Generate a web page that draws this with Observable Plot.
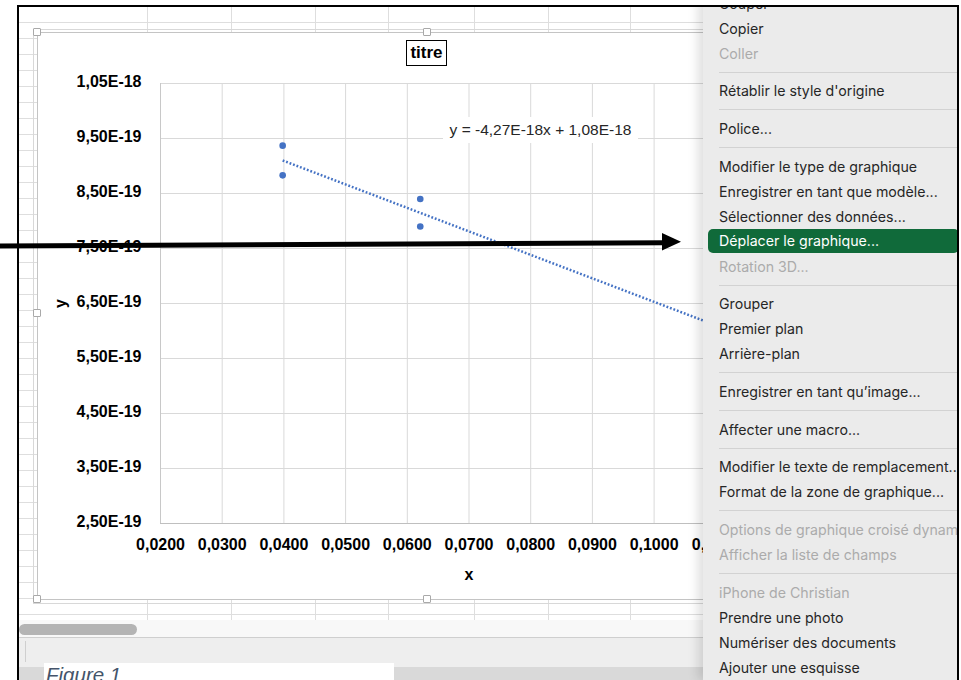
<!DOCTYPE html>
<html><head><meta charset="utf-8">
<script src="https://cdn.jsdelivr.net/npm/d3@7"></script>
<script src="https://cdn.jsdelivr.net/npm/@observablehq/plot@0.6"></script>
<style>
html,body{margin:0;padding:0;background:#fff;overflow:hidden;}
#page{position:relative;width:961px;height:680px;overflow:hidden;background:#fff;font-family:"Liberation Sans",Arial,sans-serif;}
#page div{position:absolute;box-sizing:border-box;}
.hl{height:1px;background:#dedede;}
.vl{width:1px;background:#dedede;}
#selbox{left:33px;top:29px;width:790px;height:575px;border:1px solid #d8d8d8;}
#chartArea{left:37px;top:32px;width:780px;height:568px;background:#fff;border:1px solid #c4c4c4;}
.handle{width:8px;height:8px;background:#fff;border:1px solid #a9a9a9;border-radius:1px;}
#titre{left:406px;top:40px;width:41px;height:26px;border:1px solid #000;font-weight:bold;font-size:17px;line-height:24px;text-align:center;background:#fff;color:#000;}
#eq{left:443px;top:117px;width:195px;height:26px;background:#fff;font-size:15.5px;line-height:26px;text-align:center;color:#262626;white-space:nowrap;}
#scroll{left:19px;top:620px;width:938px;height:17px;background:#f8f8f8;}
#thumb{left:19px;top:624px;width:118px;height:11px;background:#b4b4b4;border-radius:6px;}
#tabs{left:19px;top:637px;width:938px;height:30px;background:#eeeeee;border-top:1px solid #cfcfcf;}
#tabline{left:25px;top:641px;width:1px;height:21px;background:#cfcfcf;}
#status{left:19px;top:667px;width:938px;height:20px;background:#d9d9d9;}
#caption{left:44px;top:663px;width:350px;height:30px;background:#fff;}
#captxt{left:46px;top:665px;font-style:italic;font-size:20.5px;line-height:20px;color:#44546a;white-space:nowrap;}
#menu{left:703px;top:0;width:256px;height:680px;background:#ebebeb;box-shadow:-5px 0 10px rgba(0,0,0,0.13);overflow:hidden;font-family:Inter,"Noto Sans",sans-serif;font-size:14.2px;color:#262626;white-space:nowrap;}
.mi{left:16px;height:25px;line-height:25px;}
.dis{color:#ababab;}
.sep{left:16px;width:240px;height:1px;background:#d2d2d2;}
.hi{left:5px;width:251px;background:#106a3a;color:#fff;border-radius:5px;padding-left:11px;height:24px;line-height:24px;}
.cover{background:#fff;}
.frame{background:#000;}
</style>
</head><body>
<div id="page">
  <div id="selbox"></div>
  <div id="chartArea"></div>
  <div id="titre">titre</div>
  <div id="eq">y = -4,27E-18x + 1,08E-18</div>
  <div id="scroll"></div>
  <div id="thumb"></div>
  <div id="tabs"></div>
  <div id="tabline"></div>
  <div id="status"></div>
  <div id="menu"></div>
  <div class="cover" style="left:0;top:0;width:961px;height:5px"></div>
  <div class="cover" style="left:0;top:0;width:17px;height:680px"></div>
  <div class="cover" style="left:959px;top:0;width:2px;height:680px"></div>
  <div class="frame" style="left:17px;top:5px;width:942px;height:2px"></div>
  <div class="frame" style="left:17px;top:5px;width:2px;height:675px"></div>
  <div class="frame" style="left:957px;top:5px;width:2px;height:675px"></div>
  <div id="caption"></div>
  <div id="captxt">Figure 1</div>
  <svg id="arrow" width="961" height="680" style="position:absolute;left:0;top:0">
    <line x1="0" y1="246" x2="665" y2="242.8" stroke="#000" stroke-width="5"/>
    <polygon points="662,233 681,241.7 662,250.5" fill="#000"/>
  </svg>
</div>
<script>
// ---- data ----
const xValues = [0.0398, 0.0398, 0.0621, 0.0621];
const yValues = [9.37e-19, 8.83e-19, 8.40e-19, 7.90e-19];
const trendSlope = -4.27e-18;
const trendIntercept = 1.08e-18;
const trendXRange = [0.0398, 0.115];
const xTicks = [0.02, 0.03, 0.04, 0.05, 0.06, 0.07, 0.08, 0.09, 0.10, 0.11];
const xGrid = [0.02, 0.03, 0.04, 0.05, 0.06, 0.07, 0.08, 0.09, 0.10, 0.11, 0.12];
const yTicks = [2.5e-19, 3.5e-19, 4.5e-19, 5.5e-19, 6.5e-19, 7.5e-19, 8.5e-19, 9.5e-19, 1.05e-18];
const xLabel = "x";
const yLabel = "y";
const menuItems = [
  ["Couper","n"],["Copier","n"],["Coller","d"],["-"],
  ["Rétablir le style d'origine","n"],["-"],["Police...","n"],["-"],
  ["Modifier le type de graphique","n"],["Enregistrer en tant que modèle...","n"],
  ["Sélectionner des données...","n"],["Déplacer le graphique...","h"],["Rotation 3D...","d"],["-"],
  ["Grouper","n"],["Premier plan","n"],["Arrière-plan","n"],["-"],
  ["Enregistrer en tant qu’image...","n"],["-"],["Affecter une macro...","n"],["-"],
  ["Modifier le texte de remplacement...","n"],["Format de la zone de graphique...","n"],["-"],
  ["Options de graphique croisé dynamique...","d"],["Afficher la liste de champs","d"],["-"],
  ["iPhone de Christian","d"],["Prendre une photo","n"],["Numériser des documents","n"],["Ajouter une esquisse","n"]
];

// ---- spreadsheet background ----
const page = document.getElementById("page");
function addDiv(parent, cls, css){const d=document.createElement("div");d.className=cls;Object.assign(d.style,css);parent.appendChild(d);return d;}
const firstAbove = document.getElementById("selbox");
for (let y = 22; y <= 614; y += 16) page.insertBefore(addDiv(page, "hl", {left:"19px", top:y+"px", width:"938px"}), firstAbove);
[147,231,315,388,474,548,630].forEach(x => page.insertBefore(addDiv(page, "vl", {left:x+"px", top:"7px", height:"613px"}), firstAbove));
[[37,32],[427,32],[37,313],[37,599],[427,599]].forEach(([x,y]) => {
  const h = addDiv(page, "handle", {left:(x-4)+"px", top:(y-4)+"px"});
  page.insertBefore(h, document.getElementById("titre"));
});

// ---- menu ----
const menu = document.getElementById("menu");
let my = -9.5;
menuItems.forEach(([t, k]) => {
  if (t === "-") { addDiv(menu, "sep", {top:(my+6)+"px"}); my += 12.7; return; }
  const cls = k === "h" ? "hi" : (k === "d" ? "mi dis" : "mi");
  const d = addDiv(menu, cls, {top:(k==="h" ? my+0.5 : my)+"px"});
  d.textContent = t;
  my += 25;
});

// ---- chart ----
const points = xValues.map((x, i) => ({x, y: yValues[i]}));
const trend = trendXRange.map(x => ({x, y: trendSlope * x + trendIntercept}));
const fmtY = d => d.toExponential(2).replace(".", ",").replace("e", "E");
const fmtX = d => d.toFixed(4).replace(".", ",");
const font = {fontFamily: "Liberation Sans, Arial, sans-serif", fontSize: 16, fontWeight: "bold", fill: "#000"};

const chart = Plot.plot({
  width: 961, height: 680,
  marginLeft: 160, marginRight: 184, marginTop: 83, marginBottom: 157,
  style: {position: "absolute", left: "0px", top: "0px", background: "transparent", overflow: "visible"},
  x: {domain: [0.02, 0.12]},
  y: {domain: [2.5e-19, 1.05e-18]},
  marks: [
    Plot.gridX(xGrid, {stroke: "#d9d9d9", strokeOpacity: 1}),
    Plot.gridY(yTicks, {stroke: "#d9d9d9", strokeOpacity: 1}),
    Plot.ruleY([yTicks[0]], {stroke: "#bfbfbf"}),
    Plot.ruleX([xGrid[0]], {stroke: "#c8c8c8"}),
    Plot.axisY(yTicks, {anchor: "left", tickSize: 0, tickPadding: 19, dy: -1.5, tickFormat: fmtY, ...font,
      label: yLabel, labelAnchor: "center", labelOffset: 106, labelArrow: "none"}),
    Plot.axisX(xTicks, {anchor: "bottom", tickSize: 0, tickPadding: 15, tickFormat: fmtX, ...font,
      label: xLabel, labelAnchor: "center", labelOffset: 56, labelArrow: "none"}),
    Plot.line(trend, {x: "x", y: "y", stroke: "#4472c4", strokeWidth: 2.5, strokeDasharray: "1.8,1.9", strokeLinecap: "butt"}),
    Plot.dot(points, {x: "x", y: "y", r: 3.3, fill: "#4472c4", stroke: "none"})
  ]
});
page.insertBefore(chart, document.getElementById("titre"));
</script>
</body></html>
